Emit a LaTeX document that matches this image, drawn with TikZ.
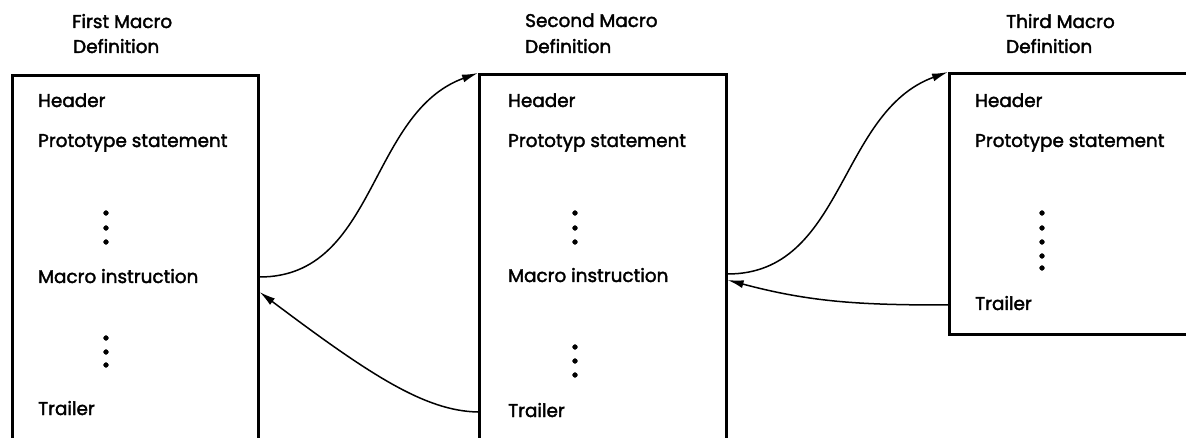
\documentclass[tikz,border=0pt]{standalone}
\usepackage{fontspec}
\setmainfont{Poppins}[FakeBold=2]
\usetikzlibrary{arrows.meta,positioning}

\begin{document}
\begin{tikzpicture}[x=1pt,y=-1pt,
		kasten/.style={draw, line width=2.6pt, anchor=north west, inner sep=0pt},
		zeile/.style={anchor=base west, inner sep=0pt, font=\fontsize{18.4}{20}\selectfont},
		pfeil/.style={line width=1.5pt, -{Latex[length=16pt,width=8pt]}}]
		\useasboundingbox (0,0) rectangle (1186,438);
		\clip (0,0) rectangle (1186,438);

		% Kaesten
		\node[kasten, minimum width=246, minimum height=400] (box1) at (11,74) {};
		\node[kasten, minimum width=247, minimum height=400] (box2) at (478,73) {};
		\node[kasten, minimum width=260, minimum height=261] (box3) at (948,72) {};

		% Titel
		\node[zeile] (t1a) at (72,28) {First Macro};
		\node[zeile] (t1b) at (73,53) {Definition};
		\node[zeile] (t2a) at (525,27) {Second Macro};
		\node[zeile] (t2b) at (525,53) {Definition};
		\node[zeile] (t3a) at (1006,28) {Third Macro};
		\node[zeile] (t3b) at (1006,53) {Definition};

		% Zeilen
		\node[zeile] (head1) at (38,107) {Header};
		\node[zeile] (proto1) at (38,147) {Prototype statement};
		\node[zeile] (instr1) at (38,283) {Macro instruction};
		\node[zeile] (trail1) at (38,415) {Trailer};

		\node[zeile] (head2) at (508,107) {Header};
		\node[zeile] (proto2) at (508,147) {Prototyp statement};
		\node[zeile] (instr2) at (508,282) {Macro instruction};
		\node[zeile] (trail2) at (508,417) {Trailer};

		\node[zeile] (head3) at (975,107) {Header};
		\node[zeile] (proto3) at (975,147) {Prototype statement};
		\node[zeile] (trail3) at (975,310) {Trailer};

		% Punkte
		\foreach \y in {213,228,242,338,352,365}
			\filldraw[black] (106,\y) circle (2.4);
		\foreach \y in {213,228,242,347,361,375}
			\filldraw[black] (575,\y) circle (2.4);
		\foreach \y in {213,228,242,256,268}
			\filldraw[black] (1042,\y) circle (2.4);

		% Anschluesse
		\coordinate (aus1) at (box1.east |- 0,277);
		\coordinate (ein1) at (box1.east |- 0,292);
		\coordinate (aus2) at (box2.east |- 0,274);
		\coordinate (ein2) at (box2.east |- 0,280);
		\coordinate (ruck2) at (box2.west |- 0,412);
		\coordinate (ruck3) at (box3.west |- 0,305);

		% Pfeile
		\draw[pfeil] (aus1) to[out=0, in=200] (box2.north west);
		\draw[pfeil] (ruck2) .. controls (425,411) and (370,375) .. (ein1);
		\draw[pfeil] (aus2) to[out=0, in=200] (box3.north west);
		\draw[pfeil] (ruck3) to[out=180, in=-15] (ein2);
	\end{tikzpicture}
\end{document}
